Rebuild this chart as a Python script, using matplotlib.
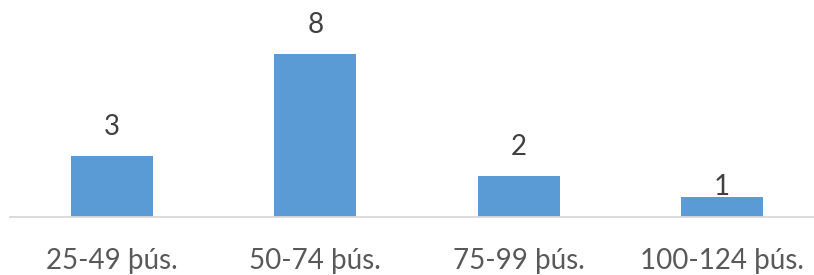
import matplotlib
matplotlib.use("Agg")
import matplotlib.pyplot as plt

categories = ["25-49 þús.", "50-74 þús.", "75-99 þús.", "100-124 þús."]
values = [3, 8, 2, 1]

# label offsets (pixels above bar top), style only
label_offsets = [29, 29, 29, 10]

plt.rcParams['font.family'] = ['Lato', 'DejaVu Sans']
W, H = 814, 275
fig = plt.figure(figsize=(W/100, H/100), dpi=100)
left = 10.3 / W
width = 813.4 / W
bottom = (H - 217) / H
ax = fig.add_axes([left, bottom, width, 1 - bottom])
x = list(range(len(categories)))
ax.bar(x, values, width=0.403, color="#5b9bd5", zorder=2)
ax.set_xlim(-0.5, 3.5)
ax.set_ylim(0, 217 / 20.375)
for s in ["top", "right", "left"]:
    ax.spines[s].set_visible(False)
ax.spines["bottom"].set_color("#d9d9d9")
ax.spines["bottom"].set_linewidth(1.3)
ax.set_yticks([])
ax.set_xticks(x)
ax.set_xticklabels(categories, fontsize=20, color="#595959")
ax.tick_params(axis="x", length=0, pad=22)
for xi, v, off in zip(x, values, label_offsets):
    ax.annotate(str(v), (xi, v), xytext=(0, off), textcoords="offset pixels",
                ha="center", va="center", fontsize=20, color="#404040", zorder=3)
fig.savefig("out.png", dpi=100)
